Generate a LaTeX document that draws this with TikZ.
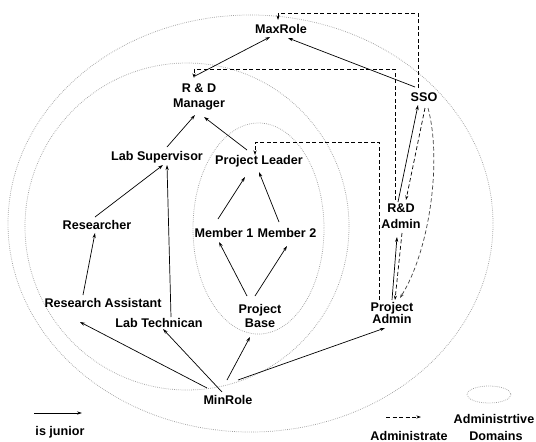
\documentclass[tikz,border=0pt]{standalone}
\usepackage{fontspec}
\setmainfont{Liberation Sans}
\usetikzlibrary{arrows.meta}
\begin{document}
\begin{tikzpicture}[x=1pt,y=-1pt,
  role/.style={font=\fontsize{12.6}{15}\selectfont\bfseries, inner sep=0pt, align=center},
  jr/.style={line width=0.7pt, -{Stealth[length=5pt,width=3.2pt]}},
  adm/.style={line width=0.7pt, dash pattern=on 4pt off 2.5pt, -{Stealth[length=4.5pt,width=3pt]}},
  admdomain/.style={gray!75, line width=0.75pt, dash pattern=on 0.7pt off 1.2pt},
  lbl/.style={font=\fontsize{12.6}{15}\selectfont\bfseries, inner sep=0pt}
]
\useasboundingbox (0,0) rectangle (536,442);

% administrative domains
\draw[admdomain] (250.5,223.5) ellipse [x radius=242.5, y radius=208.5];
\draw[admdomain] (187,226.5) ellipse [x radius=162, y radius=163.5];
\draw[admdomain] (258.5,228.5) ellipse [x radius=65.5, y radius=105.5];

% roles
\node[role] (MaxRole) at (281,29) {MaxRole};
\node[role] (RDM) at (199,97) {R \& D\\Manager};
\node[role] (SSO) at (424,97) {SSO};
\node[role] (LabSup) at (157,157) {Lab Supervisor};
\node[role] (PL) at (259,161) {Project Leader};
\node[role] (RDA) at (401,216) {R\&D\\[1pt]Admin};
\node[role] (Res) at (97,225) {Researcher};
\node[role] (M1) at (224,233) {Member 1};
\node[role] (M2) at (287,233) {Member 2};
\node[role] (RA) at (103,303) {Research Assistant};
\node[role] (LT) at (159,323) {Lab Technican};
\node[role] (PB) at (260,316) {Project\\[-1pt]Base};
\node[role] (PA) at (392,313) {Project\\[-3.5pt]Admin};
\node[role] (MinRole) at (228,400) {MinRole};

% seniority (is junior)
\draw[jr] ([shift={(-4,-21)}]RDM.center) -- ([shift={(-11,8)}]MaxRole.center);
\draw[jr] ([shift={(-9,-10)}]SSO.center) -- ([shift={(7,9)}]MaxRole.center);
\draw[jr] ([shift={(10,-10)}]LabSup.center) -- ([shift={(-4,18)}]RDM.center);
\draw[jr] ([shift={(-12,-11)}]PL.center) -- ([shift={(5,20)}]RDM.center);
\draw[jr] ([shift={(-2,-8)}]Res.center) -- ([shift={(6,8)}]LabSup.center);
\draw[jr] ([shift={(12,-6)}]LT.center) -- ([shift={(10,8)}]LabSup.center);
\draw[jr] ([shift={(-20,-8)}]RA.center) -- ([shift={(-2,8)}]Res.center);
\draw[jr] ([shift={(-6,-14)}]M1.center) -- ([shift={(-14,16)}]PL.center);
\draw[jr] ([shift={(-8,-11)}]M2.center) -- ([shift={(0,11)}]PL.center);
\draw[jr] ([shift={(-13,-20)}]PB.center) -- ([shift={(-5,9)}]M1.center);
\draw[jr] ([shift={(-5,-20)}]PB.center) -- ([shift={(0,13)}]M2.center);
\draw[jr] ([shift={(-21,-12)}]MinRole.center) -- ([shift={(-23,19)}]RA.center);
\draw[jr] ([shift={(-6,-8)}]MinRole.center) -- ([shift={(4,6)}]LT.center);
\draw[jr] ([shift={(-1,-20)}]MinRole.center) -- ([shift={(-10,21)}]PB.center);
\draw[jr] ([shift={(10,-20)}]MinRole.center) -- ([shift={(-7,15)}]PA.center);
\draw[jr] ([shift={(-3,-14)}]RDA.center) -- ([shift={(-6,8)}]SSO.center);
\draw[jr] ([shift={(0,-13)}]PA.center) -- ([shift={(-4,21)}]RDA.center);

% administration
\draw[adm] ([shift={(-6,-9)}]SSO.center) -- ++(0,-75) -| ([shift={(-3,-9)}]MaxRole.center);
\draw[adm] ([shift={(-6,-16)}]RDA.center) -- ++(0,-131) -| ([shift={(-5,-19)}]RDM.center);
\draw[adm] ([shift={(-13,-13)}]PA.center) -- ++(0,-158) -| ([shift={(-4,-6)}]PL.center);
\draw[adm] ([shift={(1,11)}]SSO.center) -- ([shift={(5,-16)}]RDA.center);
\draw[adm] ([shift={(1,17)}]RDA.center) -- ([shift={(3,-13)}]PA.center);
\draw[adm, black!75] ([shift={(4,11)}]SSO.center) .. controls (442,160) and (430,250) .. ([shift={(8,-15)}]PA.center);

% legend
\coordinate (jrA) at (34,413);
\coordinate (jrB) at (82,413);
\draw[jr] (jrA) -- (jrB);
\node[lbl] (jrL) at (60,432) {is junior};
\coordinate (admA) at (386,417);
\coordinate (admB) at (421,417);
\draw[adm] (admA) -- (admB);
\node[lbl] (admL) at (409,435.5) {Administrate};
\draw[admdomain] (489,394.5) ellipse [x radius=22, y radius=8.5];
\node[lbl] (domL1) at (494,419) {Administrtive};
\node[lbl] (domL2) at (496,435.5) {Domains};
\end{tikzpicture}
\end{document}
